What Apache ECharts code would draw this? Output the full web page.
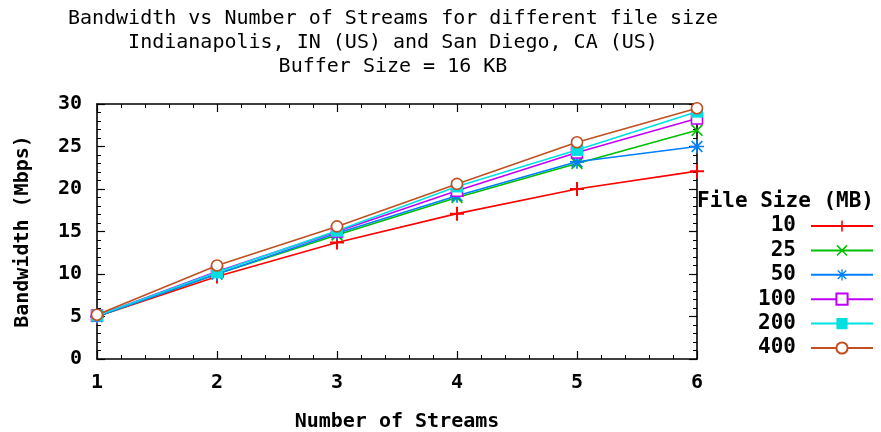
<!DOCTYPE html>
<html><head><meta charset="utf-8">
<script src="https://cdn.jsdelivr.net/npm/echarts@6/dist/echarts.min.js"></script>
<style>html,body{margin:0;padding:0;background:#fff}#c{width:881px;height:432px}</style>
</head><body><div id="c"></div>
<script>
const streams = [1, 2, 3, 4, 5, 6];
const fileSizes = ['10', '25', '50', '100', '200', '400'];
const bw10  = [5.0, 9.7, 13.7, 17.1, 20.0, 22.1];
const bw25  = [5.0, 10.0, 14.6, 19.0, 23.0, 26.9];
const bw50  = [5.0, 10.0, 14.8, 19.2, 23.2, 25.0];
const bw100 = [5.1, 10.3, 15.0, 19.8, 24.3, 28.3];
const bw200 = [5.1, 10.2, 15.1, 20.3, 24.6, 29.1];
const bw400 = [5.2, 11.0, 15.6, 20.6, 25.5, 29.5];
const yTicks = [0, 5, 10, 15, 20, 25, 30];
const xTicks = [1, 2, 3, 4, 5, 6];
const titleLines = ['Bandwidth vs Number of Streams for different file size', 'Indianapolis, IN (US) and San Diego, CA (US)', 'Buffer Size = 16 KB'];

const F = 'DejaVu Sans Mono';
const colors = ['#ff0000', '#00c000', '#0080ff', '#c000ff', '#00e0e0', '#c05020'];
const plus = 'path://M4.3,0H5.7V10H4.3Z M0,4.3H10V5.7H0Z';
const cross = 'path://M0,1L1,0L5,4L9,0L10,1L6,5L10,9L9,10L5,6L1,10L0,9L4,5Z';
const star = 'path://M4.4,0H5.6V10H4.4Z M0,4.4H10V5.6H0Z M0.8,1.6L1.6,0.8L9.2,8.4L8.4,9.2Z M8.4,0.8L9.2,1.6L1.6,9.2L0.8,8.4Z';
const symbols = [plus, cross, star, 'rect', 'rect', 'circle'];
const sizes = [14, 12, 14, 11, 12, 11];
const fills = [null, null, null, '#fff', null, '#fff'];
const allData = [bw10, bw25, bw50, bw100, bw200, bw400];

const series = fileSizes.map((name, i) => ({
  name: name,
  type: 'line',
  data: streams.map((s, j) => [s, allData[i][j]]),
  symbol: symbols[i],
  symbolSize: sizes[i],
  showAllSymbol: true,
  lineStyle: { color: colors[i], width: 1.6 },
  itemStyle: fills[i] ? { color: fills[i], borderColor: colors[i], borderWidth: 1.6 } : { color: colors[i], borderWidth: 0 },
  z: 2 + i
}));

const axisLine = { show: true, onZero: false, lineStyle: { color: '#000', width: 1.6 } };
const tick = { show: true, inside: true, length: 8, lineStyle: { color: '#000', width: 1.2 } };
const minor = { show: true, splitNumber: 5, length: 4, lineStyle: { color: '#000', width: 1 } };
const lbl = { fontFamily: F, fontWeight: 'bold', fontSize: 20, color: '#000' };

const chart = echarts.init(document.getElementById('c'), null, { renderer: 'canvas' });
chart.setOption({
  animation: false,
  backgroundColor: '#fff',
  grid: { left: 97, right: 184, top: 104, bottom: 73, show: false, containLabel: false, outerBoundsMode: 'none' },
  xAxis: [
    { type: 'value', min: 1, max: 6, interval: 1, position: 'bottom',
      axisLine: axisLine, axisTick: tick, minorTick: minor, splitLine: { show: false },
      axisLabel: Object.assign({ margin: 14, formatter: v => xTicks.includes(v) ? String(v) : '' }, lbl),
      name: 'Number of Streams', nameLocation: 'middle', nameGap: 53,
      nameTextStyle: { fontFamily: F, fontWeight: 'bold', fontSize: 20, color: '#000' } },
    { type: 'value', min: 1, max: 6, interval: 1, position: 'top',
      axisLine: axisLine, axisTick: tick, minorTick: minor, splitLine: { show: false },
      axisLabel: { show: false } }
  ],
  yAxis: [
    { type: 'value', min: 0, max: 30, interval: 5, position: 'left',
      axisLine: axisLine, axisTick: tick, minorTick: minor, splitLine: { show: false },
      axisLabel: Object.assign({ margin: 15, formatter: v => yTicks.includes(v) ? String(v) : '' }, lbl),
      name: 'Bandwidth (Mbps)', nameLocation: 'middle', nameGap: 64, nameRotate: 90,
      nameTextStyle: { fontFamily: F, fontWeight: 'bold', fontSize: 20, color: '#000' } },
    { type: 'value', min: 0, max: 30, interval: 5, position: 'right',
      axisLine: axisLine, axisTick: tick, minorTick: minor, splitLine: { show: false },
      axisLabel: { show: false } }
  ],
  legend: {
    orient: 'vertical', right: 2, top: 210, align: 'right',
    itemWidth: 62, itemHeight: 14, itemGap: 2.4,
    formatter: n => n.padStart(3, ' '),
    textStyle: { fontFamily: F, fontWeight: 'bold', fontSize: 21, color: '#000', lineHeight: 22, padding: [0, 10, 0, 0] },
    data: fileSizes
  },
  graphic: [
    { type: 'text', x: 393, y: 7, style: { text: titleLines.join('\n'), font: '20px "DejaVu Sans Mono"', fill: '#000', textAlign: 'center', lineHeight: 24 } },
    { type: 'text', x: 697, y: 191, style: { text: 'File Size (MB)', font: 'bold 21px "DejaVu Sans Mono"', fill: '#000', textAlign: 'left' } }
  ],
  series: series
});
</script></body></html>
